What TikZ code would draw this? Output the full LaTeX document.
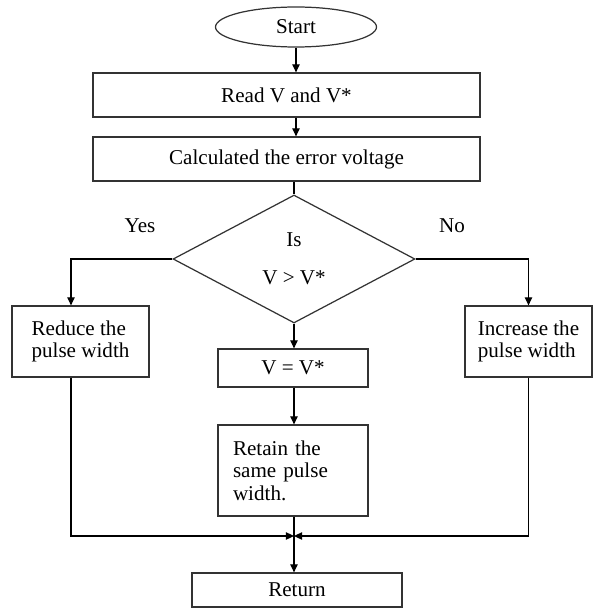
\documentclass[tikz,border=0pt]{standalone}
\usepackage{fontspec}
\setmainfont{Liberation Serif}
\usetikzlibrary{shapes.geometric,arrows.meta}

\begin{document}
\begin{tikzpicture}[x=0.02cm,y=-0.02cm,
  font=\fontsize{12}{12.8}\selectfont,
  box/.style={draw=black!80,line width=0.7pt,rectangle,inner sep=0pt},
  flow/.style={line width=0.7pt,-{Triangle[length=4.6pt,width=4.2pt]}},
  link/.style={line width=0.7pt}]
  \useasboundingbox (0,0) rectangle (594,608);

  \node[box,ellipse,minimum width=3.22cm,minimum height=0.8cm] (start) at (296,27) {Start};
  \node[box,minimum width=7.74cm,minimum height=0.88cm] (read) at (286.5,95) {Read V and V*};
  \node[box,minimum width=7.74cm,minimum height=0.88cm] (calc) at (286.5,159) {Calculated the error voltage};
  \node[box,diamond,minimum width=4.84cm,minimum height=2.56cm,align=center] (dec) at (294,259) {Is\\[9pt]V > V*};
  \node (yes) at (140,226) {Yes};
  \node (no) at (452,226) {No};
  \node[box,minimum width=2.74cm,minimum height=1.42cm,align=left] (reduce) at (80.5,341.5) {Reduce the\\pulse width};
  \node[box,minimum width=2.54cm,minimum height=1.42cm,align=left] (increase) at (528.5,341.5) {Increase the\\pulse width};
  \node[box,minimum width=3cm,minimum height=0.76cm] (veq) at (293,368) {V = V*};
  \node[box,minimum width=3cm,minimum height=1.82cm,text width=2.4cm,align=left] (retain) at (293,470.5) {Retain the\\same pulse\\width.};
  \node[box,minimum width=4.2cm,minimum height=0.68cm] (return) at (297,590) {Return};

  \coordinate (lj) at (71,536);
  \coordinate (mj) at (294,536);

  \draw[flow] (start.south) -- (start.south |- read.north);
  \draw[flow] (start.south |- read.south) -- (start.south |- calc.north);
  \draw[link] (dec.north |- calc.south) -- (dec.north);
  \draw[flow] (dec.west) -| (reduce.north -| lj);
  \draw[flow] (dec.east) -| (increase.north);
  \draw[flow] (dec.south) -- (dec.south |- veq.north);
  \draw[flow] (dec.south |- veq.south) -- (dec.south |- retain.north);
  \draw[flow] (dec.south |- retain.south) -- (dec.south |- return.north);
  \draw[flow] (reduce.south -| lj) |- (mj);
  \draw[flow] (increase.south) |- (mj);
\end{tikzpicture}
\end{document}
